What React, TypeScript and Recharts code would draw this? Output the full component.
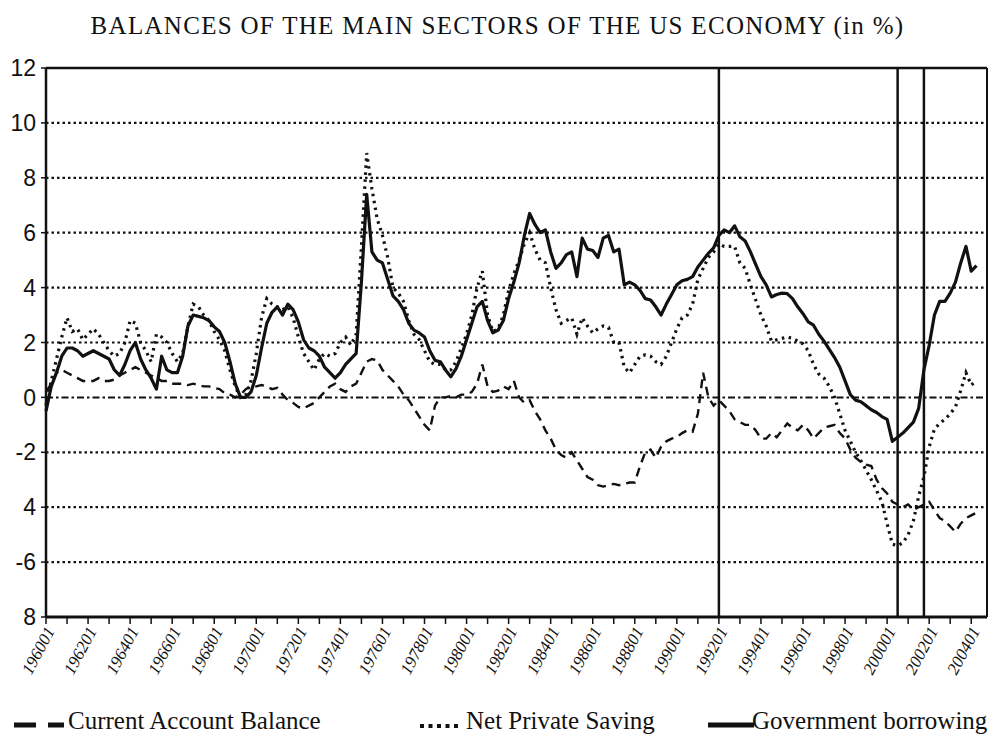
import { LineChart, Line, XAxis, YAxis, ReferenceLine } from 'recharts'

// quarterly series, 1960Q1 .. 2004Q2 (% of GDP)
const currentAccount = [
  0.2, 0.5, 0.9, 1.0, 0.9, 0.8, 0.7, 0.6,
  0.6, 0.6, 0.7, 0.6, 0.6, 0.65, 0.8, 0.9,
  1.0, 1.1, 1.0, 0.9, 0.8, 0.7, 0.6, 0.6,
  0.5, 0.5, 0.5, 0.45, 0.5, 0.45, 0.4, 0.4,
  0.35, 0.3, 0.15, 0.1, 0.0, 0.1, 0.3, 0.4,
  0.4, 0.45, 0.4, 0.3, 0.35, 0.1, -0.1, -0.2,
  -0.35, -0.4, -0.3, -0.2, 0.0, 0.2, 0.4, 0.5,
  0.3, 0.2, 0.4, 0.5, 0.9, 1.3, 1.4, 1.35,
  1.0, 0.8, 0.6, 0.4, 0.1, -0.1, -0.4, -0.7,
  -1.0, -1.2, -0.3, 0.0, 0.0, 0.05, 0.0, 0.1,
  0.1, 0.2, 0.5, 1.2, 0.4, 0.2, 0.25, 0.4,
  0.3, 0.6, 0.0, -0.2, -0.1, -0.5, -0.8, -1.2,
  -1.5, -1.9, -2.1, -2.2, -2.0, -2.3, -2.6, -2.9,
  -3.0, -3.2, -3.25, -3.2, -3.15, -3.2, -3.15, -3.1,
  -3.1, -2.5, -2.0, -1.9, -2.2, -1.8, -1.6, -1.5,
  -1.45, -1.3, -1.2, -1.25, -0.6, 0.9, 0.0, -0.3,
  -0.1, -0.3, -0.5, -0.8, -0.9, -1.0, -1.0, -1.2,
  -1.5, -1.5, -1.3, -1.45, -1.2, -0.95, -1.1, -1.2,
  -1.0, -1.2, -1.5, -1.3, -1.1, -1.05, -1.0, -1.3,
  -1.5, -1.9, -2.2, -2.35, -2.45, -2.5, -3.0, -3.3,
  -3.5, -3.8, -3.9, -4.0, -3.9, -4.1, -4.0, -3.9,
  -3.8, -4.1, -4.4, -4.5, -4.7, -4.9, -4.6, -4.4,
  -4.3, -4.2,
]

const netPrivateSaving = [
  -0.3, 0.6, 1.4, 2.2, 2.9, 2.4, 2.5, 2.1,
  2.3, 2.5, 2.3, 2.0, 1.7, 1.5, 1.6, 2.0,
  2.8, 2.7, 2.0, 1.7, 1.3, 2.3, 2.2, 2.0,
  1.6, 1.3, 1.6, 2.6, 3.4, 3.3, 3.0, 2.8,
  2.4, 2.1, 1.7, 1.0, 0.4, 0.0, 0.1, 0.6,
  1.6, 2.9, 3.6, 3.4, 3.3, 3.2, 3.3, 2.9,
  2.2, 1.6, 1.3, 1.0, 1.4, 1.6, 1.5, 1.6,
  2.0, 2.2, 1.9, 2.3, 5.5, 8.9, 7.6, 6.5,
  5.9, 5.1, 4.0, 3.8, 3.5, 2.8, 2.3, 2.1,
  1.7, 1.3, 1.2, 1.2, 1.0, 1.0, 1.3, 1.8,
  2.3, 3.0, 4.0, 4.6, 3.0, 2.4, 2.5, 3.0,
  3.9, 4.5, 5.0, 5.6, 6.0, 5.4, 5.0, 4.9,
  4.0, 3.2, 2.7, 2.8, 2.9, 2.3, 2.9, 2.6,
  2.35, 2.5, 2.6, 2.55, 2.0, 2.0, 1.1, 0.9,
  1.2, 1.5, 1.55, 1.5, 1.3, 1.2, 1.5, 2.0,
  2.5, 2.9, 3.0, 3.4, 4.3, 4.7, 5.1, 5.3,
  5.6, 5.5, 5.5, 5.5, 4.9, 4.7, 4.1, 3.55,
  3.0, 2.6, 2.05, 2.1, 2.15, 2.2, 2.15, 2.05,
  1.95, 1.7, 1.2, 0.85, 0.7, 0.4, 0.0, -0.6,
  -1.2, -1.6, -2.0, -2.3, -2.65, -3.0, -3.4, -3.8,
  -4.6, -5.35, -5.4, -5.3, -5.0, -4.5, -3.6, -2.9,
  -1.8, -1.15, -0.95, -0.8, -0.6, -0.35, 0.25, 0.9,
  0.45, 0.6,
]

const govBorrowing = [
  -0.5, 0.4, 0.9, 1.5, 1.8, 1.8, 1.7, 1.5,
  1.6, 1.7, 1.6, 1.5, 1.4, 1.0, 0.8, 1.2,
  1.7, 2.0, 1.4, 1.0, 0.7, 0.3, 1.5, 1.0,
  0.9, 0.9, 1.5, 2.6, 3.0, 2.95, 2.9, 2.8,
  2.57, 2.4, 2.0, 1.3, 0.5, 0.0, 0.0, 0.2,
  0.8, 1.8, 2.7, 3.1, 3.3, 3.0, 3.4, 3.2,
  2.75, 2.1, 1.8, 1.7, 1.5, 1.1, 0.9, 0.7,
  0.9, 1.2, 1.4, 1.6, 4.2, 7.4, 5.3, 5.0,
  4.9, 4.3, 3.7, 3.5, 3.2, 2.7, 2.45, 2.35,
  2.2, 1.7, 1.35, 1.3, 1.0, 0.75, 1.05, 1.5,
  2.1, 2.7, 3.3, 3.5, 2.8, 2.35, 2.45, 2.8,
  3.6, 4.2, 4.9, 5.9, 6.7, 6.3, 6.0, 6.1,
  5.3, 4.7, 4.9, 5.2, 5.3, 4.4, 5.8, 5.4,
  5.35, 5.1, 5.8, 5.9, 5.3, 5.4, 4.1, 4.2,
  4.1, 3.9, 3.6, 3.55, 3.3, 3.0, 3.4, 3.75,
  4.1, 4.25, 4.3, 4.4, 4.75, 5.0, 5.25, 5.45,
  5.9, 6.1, 6.0, 6.25, 5.85, 5.7, 5.3, 4.85,
  4.4, 4.1, 3.66, 3.75, 3.8, 3.78, 3.6, 3.3,
  3.05, 2.75, 2.63, 2.3, 2.05, 1.75, 1.45, 1.1,
  0.6, 0.1, -0.1, -0.16, -0.3, -0.45, -0.55, -0.7,
  -0.8, -1.6, -1.45, -1.3, -1.1, -0.9, -0.4, 1.0,
  1.9, 3.0, 3.5, 3.5, 3.8, 4.2, 4.9, 5.5,
  4.6, 4.8,
]

const START_YEAR = 1960
const LAST_SLOT = 179 // axis runs to 2004Q4

const tickLabels = [
  '196001', '196201', '196401', '196601', '196801', '197001', '197201', '197401',
  '197601', '197801', '198001', '198201', '198401', '198601', '198801', '199001',
  '199201', '199401', '199601', '199801', '200001', '200201', '200401',
]
const yTicks = [12, 10, 8, 6, 4, 2, 0, -2, -4, -6, -8]
// labels as printed (scan lost some minus signs)
const yTickLabels = ['12', '10', '8', '6', '4', '2', '0', '-2', '4', '-6', '8']
const gridValues = [10, 8, 6, 4, 2, -2, -4, -6]
const markerQuarters = ['199201', '200003', '200104']

const quarterCode = (i: number) => `${START_YEAR + Math.floor(i / 4)}0${(i % 4) + 1}`
const quarterIndex = (code: string) => {
  const y = Number(code.slice(0, 4))
  const q = Number(code.slice(4))
  return (y - START_YEAR) * 4 + q - 1
}

const data = govBorrowing.map((g, i) => ({
  i,
  q: quarterCode(i),
  cab: currentAccount[i],
  nps: netPrivateSaving[i],
  gov: g,
}))

const yearTicks: number[] = []
for (let i = 0; i <= LAST_SLOT; i += 4) yearTicks.push(i)

const serif = '"Liberation Serif", "Times New Roman", serif'
const sans = '"Liberation Sans", Arial, sans-serif'

function XTick(props: any) {
  const { x, y, payload } = props
  const code = quarterCode(payload.value)
  if (!tickLabels.includes(code)) return null
  const px = x + 4
  const py = y + 2
  return (
    <text
      x={px}
      y={py}
      transform={`rotate(-62 ${px} ${py})`}
      textAnchor="end"
      dy="0.35em"
      fontFamily={serif}
      fontStyle="italic"
      fontSize={17}
      fill="#111"
    >
      {code}
    </text>
  )
}

const legendItems = [
  { label: 'Current Account Balance', kind: 'dash', left: 12, textLeft: 68 },
  { label: 'Net Private Saving', kind: 'dot', left: 418, textLeft: 466 },
  { label: 'Government borrowing', kind: 'solid', left: 708, textLeft: 752 },
]

function LegendIcon({ kind }: { kind: string }) {
  if (kind === 'dash')
    return (
      <svg width={54} height={12}>
        <line x1={2} y1={6} x2={24} y2={6} stroke="#111" strokeWidth={5} />
        <line x1={36} y1={6} x2={52} y2={6} stroke="#111" strokeWidth={5} />
      </svg>
    )
  if (kind === 'dot')
    return (
      <svg width={44} height={12}>
        <line x1={2} y1={7} x2={42} y2={7} stroke="#111" strokeWidth={4} strokeDasharray="4 4.5" />
      </svg>
    )
  return (
    <svg width={46} height={12}>
      <line x1={0} y1={6} x2={46} y2={6} stroke="#111" strokeWidth={5} />
    </svg>
  )
}

export default function App() {
  return (
    <div
      style={{
        position: 'absolute',
        left: 0,
        top: 0,
        width: 995,
        height: 738,
        background: '#fff',
        overflow: 'hidden',
      }}
    >
      <div
        style={{
          position: 'absolute',
          top: 12,
          left: 0,
          width: 995,
          textAlign: 'center',
          fontFamily: serif,
          fontSize: 25,
          color: '#111',
          letterSpacing: 1.3,
        }}
      >
        BALANCES OF THE MAIN SECTORS OF THE US ECONOMY (in %)
      </div>

      <div style={{ position: 'absolute', left: 0, top: 0 }}>
        <LineChart
          width={995}
          height={738}
          data={data}
          margin={{ top: 68, right: 8, bottom: 51, left: 6 }}
        >
          {gridValues.map((v) => (
            <ReferenceLine
              key={v}
              y={v}
              stroke="#111"
              strokeWidth={2.2}
              strokeDasharray="2.5 3"
            />
          ))}
          <ReferenceLine y={0} stroke="#111" strokeWidth={2} strokeDasharray="7 3 2.5 3" />
          <ReferenceLine y={12} stroke="#111" strokeWidth={2.5} />
          <ReferenceLine x={LAST_SLOT} stroke="#111" strokeWidth={2} />
          {markerQuarters.map((q) => (
            <ReferenceLine key={q} x={quarterIndex(q)} stroke="#111" strokeWidth={2.5} />
          ))}
          <XAxis
            dataKey="i"
            type="number"
            domain={[0, LAST_SLOT]}
            ticks={yearTicks}
            interval={0}
            tick={<XTick />}
            tickSize={7}
            height={70}
            axisLine={{ stroke: '#111', strokeWidth: 3 }}
            tickLine={{ stroke: '#111', strokeWidth: 1.5 }}
          />
          <YAxis
            type="number"
            domain={[-8, 12]}
            ticks={yTicks}
            interval={0}
            width={40}
            tickSize={5}
            tickMargin={5}
            tickFormatter={(v: number) => yTickLabels[yTicks.indexOf(v)]}
            tick={{ fill: '#111', fontSize: 23, fontFamily: sans }}
            axisLine={{ stroke: '#111', strokeWidth: 2.5 }}
            tickLine={{ stroke: '#111', strokeWidth: 1.5 }}
          />
          <Line
            dataKey="cab"
            stroke="#111"
            strokeWidth={2.4}
            strokeDasharray="9 6"
            dot={false}
            isAnimationActive={false}
          />
          <Line
            dataKey="nps"
            stroke="#111"
            strokeWidth={3.2}
            strokeDasharray="2.5 4.5"
            dot={false}
            isAnimationActive={false}
          />
          <Line
            dataKey="gov"
            stroke="#111"
            strokeWidth={3.2}
            strokeLinejoin="round"
            dot={false}
            isAnimationActive={false}
          />
        </LineChart>
      </div>

      {legendItems.map((it) => (
        <div key={it.label}>
          <div style={{ position: 'absolute', left: it.left, top: 717 }}>
            <LegendIcon kind={it.kind} />
          </div>
          <div
            style={{
              position: 'absolute',
              left: it.textLeft,
              top: 707,
              fontFamily: serif,
              fontSize: 25,
              color: '#111',
              whiteSpace: 'nowrap',
            }}
          >
            {it.label}
          </div>
        </div>
      ))}
    </div>
  )
}
